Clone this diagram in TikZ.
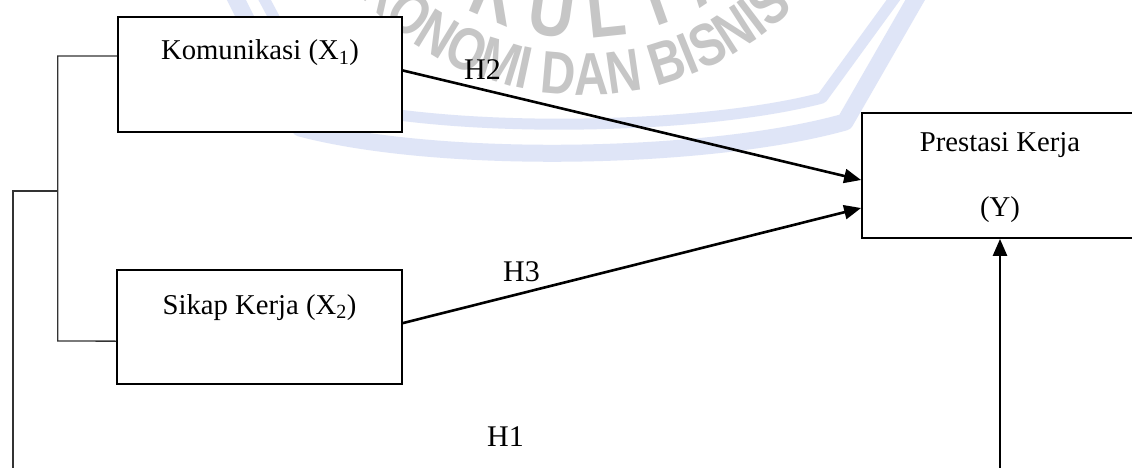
\documentclass[tikz,border=0pt]{standalone}
\usepackage{fontspec}
\setmainfont{Liberation Serif}
\setsansfont{Liberation Sans}
\newfontfamily\wmfont[FakeStretch=0.8, UprightFont=* Bold]{Liberation Sans}
\usetikzlibrary{arrows.meta,decorations.text}
\definecolor{wmgray}{RGB}{198,198,198}
\definecolor{wmblue}{RGB}{223,229,247}
\newcommand\wmsmall{\fontsize{60}{60}\selectfont\wmfont\color{wmgray}}
\newcommand\wmbig{\fontsize{80}{80}\selectfont\wmfont\color{wmgray}}
\tikzset{
  box/.style={draw=black, fill=white, line width=1.8pt, rectangle, inner sep=0pt},
  txt/.style={inner sep=0pt, font=\fontsize{28.7}{34}\selectfont},
  hlab/.style={inner sep=0pt, font=\fontsize{30}{36}\selectfont},
  arr/.style={line width=2.6pt, -{Triangle[length=17pt,width=14pt]}},
  brk/.style={line width=1.3pt, draw=black!80},
  wmband/.style={draw=wmblue, line cap=round, line join=round}
}
\begin{document}
\begin{tikzpicture}[x=1pt,y=1pt]
\useasboundingbox (0,0) rectangle (1132,-468);
\clip (0,0) rectangle (1132,-468);
\fill[white] (0,0) rectangle (1132,-468);
% watermark
\draw[wmband, line width=11pt] (262,5) -- (318,-100) .. controls (450,-135) and (700,-130) .. (822,-98) -- (897,5);
\draw[wmband, line width=17pt] (234,5) -- (300,-128) .. controls (440,-165) and (710,-160) .. (845,-122) -- (918,5);
\coordinate (wmc) at (583,205);
\path[decorate, decoration={text along path, text={|\wmbig|F A K U L T A S}}]
  (wmc) ++(-147.2:243) arc[start angle=-147.2, end angle=-10, radius=243];
\path[decorate, decoration={text along path, text={|\wmsmall|EKONOMI DAN BISNIS}}]
  (wmc) ++(-144.6:300) arc[start angle=-144.6, end angle=-10, radius=300];
% boxes
\node[box, minimum width=284pt, minimum height=114.4pt] (x1) at (260,-74.5) {};
\node[txt, anchor=base] (x1t) at (260,-60) {Komunikasi (X\textsubscript{1})};
\node[box, minimum width=284.7pt, minimum height=114.3pt] (x2) at (259.35,-327.15) {};
\node[txt, anchor=base] (x2t) at (259.5,-314) {Sikap Kerja (X\textsubscript{2})};
\node[box, minimum width=300pt, minimum height=125pt] (y) at (1012,-175.5) {};
\node[txt, anchor=base] (yt1) at (1000,-152) {Prestasi Kerja};
\node[txt, anchor=base] (yt2) at (1000,-216.6) {(Y)};
% bracket
\coordinate (bj) at (57.7,-191);
\coordinate (bl) at (13,-480);
\draw[brk] ([yshift=18.5pt]x1.west) -| (57.7,-341) -- ([yshift=-14pt]x2.west);
\draw[brk] (bj) -| (bl);
% arrows
\draw[arr] ([yshift=4pt]x1.east) -- ([yshift=-4.5pt]y.west);
\draw[arr] ([yshift=4pt]x2.east) -- ([yshift=-32.5pt]y.west);
\coordinate (h1s) at (1000,-480);
\draw[arr] (h1s) -- ([xshift=-12pt]y.south);
% labels
\node[hlab, anchor=base] (h2) at (482.5,-80) {H2};
\node[hlab, anchor=base] (h3) at (521.5,-281) {H3};
\node[hlab, anchor=base] (h1) at (505.5,-446) {H1};
\end{tikzpicture}
\end{document}
